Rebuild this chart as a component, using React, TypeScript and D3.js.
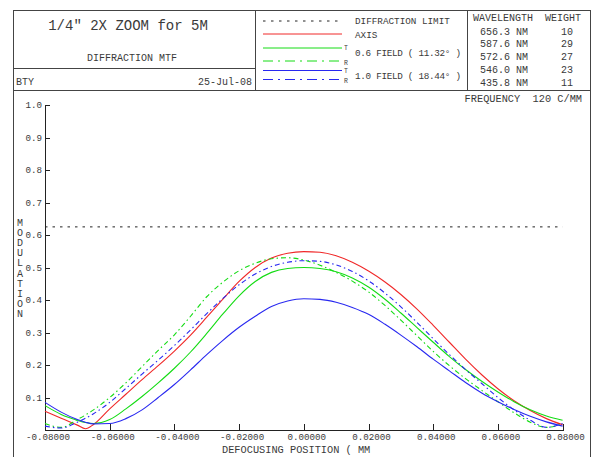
import React from 'react';
import * as d3 from 'd3';

// defocus positions (mm) and MTF at 120 c/mm
const defocus = [-0.08, -0.075, -0.07, -0.0675, -0.065, -0.06, -0.055, -0.05, -0.045, -0.04, -0.035, -0.03, -0.025, -0.02, -0.015, -0.01, -0.005, 0, 0.005, 0.01, 0.015, 0.02, 0.025, 0.03, 0.035, 0.04, 0.045, 0.05, 0.055, 0.06, 0.065, 0.07, 0.075, 0.08];
const axisMtf = [0.058, 0.036, 0.015, 0.004, 0.017, 0.065, 0.11, 0.155, 0.198, 0.243, 0.292, 0.347, 0.403, 0.457, 0.5, 0.529, 0.544, 0.549, 0.547, 0.536, 0.516, 0.489, 0.456, 0.417, 0.372, 0.322, 0.27, 0.218, 0.17, 0.127, 0.09, 0.06, 0.035, 0.016];
const field06T = [0.075, 0.048, 0.03, 0.023, 0.02, 0.032, 0.065, 0.103, 0.145, 0.19, 0.24, 0.297, 0.357, 0.413, 0.457, 0.485, 0.497, 0.5, 0.497, 0.487, 0.468, 0.44, 0.403, 0.36, 0.315, 0.27, 0.226, 0.186, 0.15, 0.117, 0.087, 0.062, 0.043, 0.03];
const field06R = [0.02, 0.008, 0.032, 0.046, 0.062, 0.1, 0.145, 0.195, 0.245, 0.293, 0.35, 0.41, 0.455, 0.49, 0.513, 0.527, 0.53, 0.523, 0.507, 0.485, 0.458, 0.425, 0.384, 0.338, 0.29, 0.242, 0.198, 0.158, 0.122, 0.087, 0.053, 0.024, 0.008, 0.02];
const field10T = [0.085, 0.055, 0.032, 0.024, 0.019, 0.02, 0.035, 0.062, 0.1, 0.14, 0.185, 0.232, 0.276, 0.316, 0.35, 0.38, 0.397, 0.404, 0.402, 0.393, 0.377, 0.356, 0.326, 0.292, 0.256, 0.218, 0.182, 0.146, 0.114, 0.087, 0.063, 0.042, 0.025, 0.012];
const field10R = [0.012, 0.006, 0.024, 0.036, 0.05, 0.085, 0.128, 0.172, 0.215, 0.26, 0.308, 0.358, 0.405, 0.447, 0.48, 0.503, 0.516, 0.521, 0.519, 0.508, 0.488, 0.459, 0.422, 0.379, 0.331, 0.281, 0.232, 0.186, 0.143, 0.1, 0.062, 0.03, 0.008, 0.02];
const diffractionLimit = 0.625;

const xTicks = [-0.08, -0.06, -0.04, -0.02, 0, 0.02, 0.04, 0.06, 0.08];
const yTicks = [0.1, 0.2, 0.3, 0.4, 0.5, 0.6, 0.7, 0.8, 0.9, 1.0];

const wavelengths = ['656.3', '587.6', '572.6', '546.0', '435.8'];
const weights = [10, 29, 27, 23, 11];

const RED = '#f02828';
const GREEN = '#14dc14';
const BLUE = '#2828f0';
const INK = '#3a3a3a';
const FRAME = '#444';
const FONT = "'Liberation Mono', 'Courier New', monospace";
const DASHDOT = '5,3,1.5,3';

export default function App() {
  const x = d3.scaleLinear().domain([-0.08, 0.08]).range([45, 562.6]);
  const y = d3.scaleLinear().domain([0, 1]).range([430, 105]);
  const line = d3.line<number>()
    .x((_, i) => x(defocus[i]))
    .y((d) => y(d))
    .curve(d3.curveMonotoneX);

  const series = [
    { vals: axisMtf, color: RED, dash: undefined },
    { vals: field06T, color: GREEN, dash: undefined },
    { vals: field06R, color: GREEN, dash: DASHDOT },
    { vals: field10T, color: BLUE, dash: undefined },
    { vals: field10R, color: BLUE, dash: DASHDOT },
  ];

  const legendRows = [
    { y: 34, color: RED, dash: undefined },
    { y: 48, color: GREEN, dash: undefined },
    { y: 61, color: GREEN, dash: '10,5,2,5' },
    { y: 70.5, color: BLUE, dash: undefined },
    { y: 79.5, color: BLUE, dash: '10,5,2,5' },
  ];

  return (
    <svg width={594} height={457} style={{ position: 'absolute', left: 0, top: 0, background: '#fff' }}
      fontFamily={FONT} fill={INK}>
      <rect x={0} y={0} width={594} height={457} fill="#fff" />

      {/* frame and title block */}
      <g stroke={FRAME} strokeWidth={1} fill="none" shapeRendering="crispEdges">
        <path d="M13.5,470 V10.5 H590.5 V470" />
        <line x1={13.5} y1={90.5} x2={590.5} y2={90.5} />
        <line x1={255.5} y1={10.5} x2={255.5} y2={90.5} />
        <line x1={467.5} y1={10.5} x2={467.5} y2={90.5} />
        <line x1={13.5} y1={68.5} x2={255.5} y2={68.5} />
      </g>

      <text x={128} y={30} fontSize={14} textAnchor="middle">1/4" 2X ZOOM for 5M</text>
      <text x={132} y={61} fontSize={10} textAnchor="middle">DIFFRACTION MTF</text>
      <text x={16} y={85} fontSize={10}>BTY</text>
      <text x={252} y={85} fontSize={10} textAnchor="end">25-Jul-08</text>

      {/* legend */}
      <line x1={263} x2={342} y1={21} y2={21} stroke="#222" strokeDasharray="2.5,5.5" />
      {legendRows.map((r, i) => (
        <line key={i} x1={263} x2={342} y1={r.y} y2={r.y} stroke={r.color} strokeDasharray={r.dash} />
      ))}
      <g fontSize={9.3}>
        <text x={355} y={24}>DIFFRACTION LIMIT</text>
        <text x={355} y={38}>AXIS</text>
        <text x={355} y={56} textLength={106} xmlSpace="preserve">0.6 FIELD ( 11.32° )</text>
        <text x={355} y={79} textLength={106} xmlSpace="preserve">1.0 FIELD ( 18.44° )</text>
      </g>
      <g fontSize={6.5}>
        <text x={344} y={50}>T</text>
        <text x={344} y={65}>R</text>
        <text x={344} y={73}>T</text>
        <text x={344} y={83}>R</text>
      </g>

      {/* wavelength table */}
      <g fontSize={10}>
        <text x={473} y={21}>WAVELENGTH</text>
        <text x={545} y={21}>WEIGHT</text>
        {wavelengths.map((w, i) => (
          <text key={w} x={480} y={34.5 + i * 12.8} xmlSpace="preserve">{w} NM</text>
        ))}
        {weights.map((w, i) => (
          <text key={i} x={567} y={34.5 + i * 12.8} textAnchor="middle">{w}</text>
        ))}
      </g>

      <text x={582} y={102} fontSize={10.3} textAnchor="end" xmlSpace="preserve">FREQUENCY  120 C/MM</text>

      {/* axes */}
      <g stroke="#222" strokeWidth={1} shapeRendering="crispEdges">
        <line x1={45.5} x2={45.5} y1={105} y2={430.5} />
        <line x1={45.5} x2={563} y1={430.5} y2={430.5} />
        {yTicks.map((t) => (
          <line key={t} x1={45.5} x2={50} y1={Math.round(y(t)) + 0.5} y2={Math.round(y(t)) + 0.5} />
        ))}
        {xTicks.slice(1).map((t) => (
          <line key={t} x1={Math.round(x(t)) + 0.5} x2={Math.round(x(t)) + 0.5} y1={430.5} y2={424} />
        ))}
      </g>
      <g fontSize={9.2}>
        {yTicks.map((t) => (
          <text key={t} x={42} y={y(t) + 3} textAnchor="end">{t.toFixed(1)}</text>
        ))}
        {xTicks.map((t) => (
          <text key={t} x={x(t) + 3} y={440} textAnchor="middle">{t.toFixed(5)}</text>
        ))}
      </g>
      <text x={222} y={453} fontSize={10.3} xmlSpace="preserve">DEFOCUSING POSITION ( MM</text>
      <g fontSize={10} textAnchor="middle">
        {'MODULATION'.split('').map((c, i) => (
          <text key={i} x={20} y={226 + i * 10.1}>{c}</text>
        ))}
      </g>

      {/* diffraction limit */}
      <line x1={x(-0.08)} x2={x(0.08)} y1={y(diffractionLimit)} y2={y(diffractionLimit)}
        stroke="#222" strokeDasharray="2.5,5" />

      {/* MTF curves */}
      <g fill="none" strokeWidth={1.1}>
        {series.map((s, i) => (
          <path key={i} d={line(s.vals) || ''} stroke={s.color} strokeDasharray={s.dash} />
        ))}
      </g>
    </svg>
  );
}
